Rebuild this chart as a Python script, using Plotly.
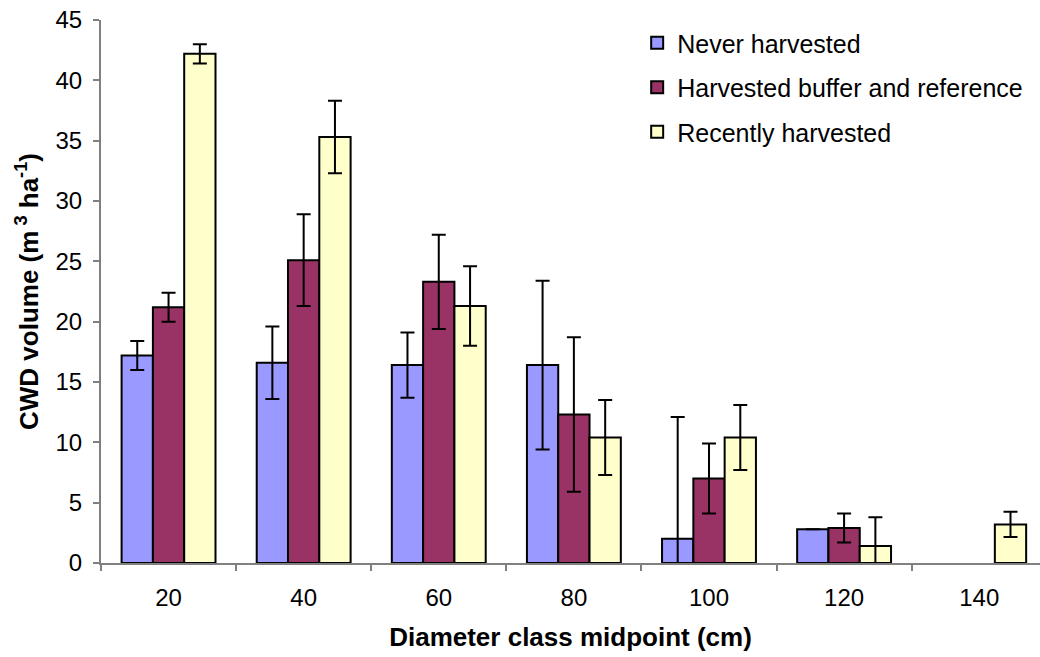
import plotly.graph_objects as go

# Diameter classes (cm) and mean CWD volume per stand history
diameter_classes = ["20", "40", "60", "80", "100", "120", "140"]

never_harvested = [17.2, 16.6, 16.4, 16.4, 2.0, 2.8, None]
never_harvested_err = [1.2, 3.0, 2.7, 7.0, 10.1, 0.0, None]

buffer_reference = [21.2, 25.1, 23.3, 12.3, 7.0, 2.9, None]
buffer_reference_err = [1.2, 3.8, 3.9, 6.4, 2.9, 1.2, None]

recently_harvested = [42.2, 35.3, 21.3, 10.4, 10.4, 1.4, 3.2]
recently_harvested_err = [0.8, 3.0, 3.3, 3.1, 2.7, 2.4, 1.05]

series = [
    ("Never harvested", never_harvested, never_harvested_err, "#9999FF"),
    ("Harvested buffer and reference", buffer_reference, buffer_reference_err, "#993366"),
    ("Recently harvested", recently_harvested, recently_harvested_err, "#FFFFCC"),
]

FONT = "Liberation Sans, Arial, sans-serif"

fig = go.Figure()
for i, (name, vals, errs, color) in enumerate(series):
    fig.add_trace(go.Bar(
        x=diameter_classes,
        y=vals,
        name=name,
        legendgroup=f"g{i}",
        marker=dict(color=color, line=dict(color="black", width=2)),
        error_y=dict(type="data", array=errs, visible=True,
                     color="black", thickness=2, width=7),
    ))

fig.update_layout(
    width=1040,
    height=657,
    paper_bgcolor="white",
    plot_bgcolor="white",
    barmode="group",
    bargap=0.305,
    bargroupgap=0,
    margin=dict(l=101, r=0, t=20, b=94),
    font=dict(family=FONT, size=24, color="black"),
    showlegend=True,
    legend=dict(
        x=0.571, y=1.0, xanchor="left", yanchor="top",
        font=dict(family=FONT, size=25, color="black"),
        tracegroupgap=9,
        bgcolor="rgba(0,0,0,0)",
        itemwidth=30,
    ),
    xaxis=dict(
        type="category",
        range=[-0.5, 6.45],
        tickson="boundaries",
        ticks="outside",
        ticklen=6,
        tickcolor="#808080",
        tickwidth=2,
        showline=True,
        linecolor="#808080",
        linewidth=2,
        showgrid=False,
        ticklabelstandoff=12,
        tickfont=dict(family=FONT, size=24),
        title=dict(text="<b>Diameter class midpoint (cm)</b>",
                   font=dict(family=FONT, size=26), standoff=18),
    ),
    yaxis=dict(
        range=[0, 45],
        dtick=5,
        ticks="outside",
        ticklen=6,
        tickcolor="#808080",
        tickwidth=2,
        showline=True,
        linecolor="#808080",
        linewidth=2,
        showgrid=False,
        zeroline=False,
        ticklabelstandoff=6,
        tickfont=dict(family=FONT, size=24),
        title=dict(text="<b>CWD volume (m<sup> 3</sup> ha<sup>-1</sup>)</b>",
                   font=dict(family=FONT, size=26), standoff=9),
    ),
)

fig.write_html("out.html")
